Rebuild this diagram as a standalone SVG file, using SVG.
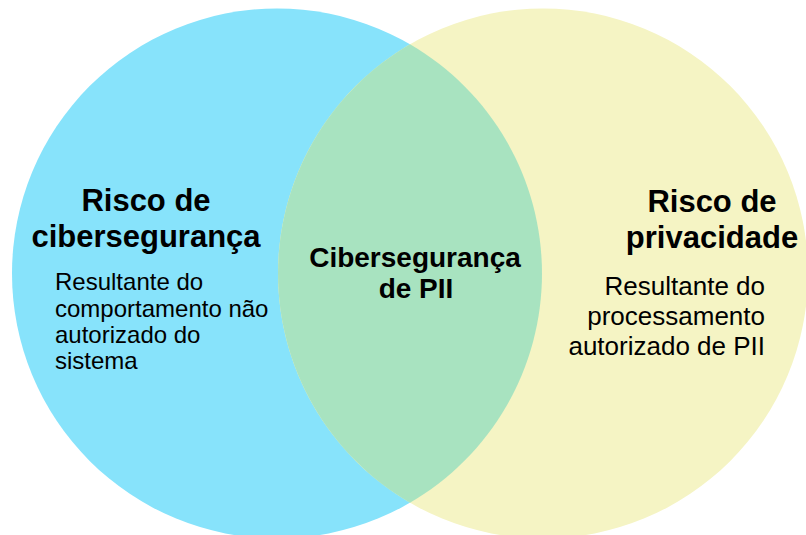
<svg xmlns="http://www.w3.org/2000/svg" width="806" height="535" viewBox="0 0 806 535">
<style>
.t{font-family:"Liberation Sans",Arial,sans-serif;fill:#000}
.h{font-weight:bold;font-size:31px;text-anchor:middle}
.c{font-weight:bold;font-size:28px;text-anchor:middle}
.bl{font-size:24px}
.br{font-size:26px;text-anchor:end}
</style>
<rect width="806" height="535" fill="#ffffff"/>
<g id="connectors"></g>
<g id="cybersecurity-risk">
<circle cx="277" cy="273.5" r="265" fill="#87E3FB"/>
</g>
<g id="privacy-risk">
<circle cx="543" cy="273.5" r="265" fill="#F5F4C4"/>
</g>
<g id="pii-cybersecurity">
<path d="M410,44.3 A265,265 0 0,1 410,502.7 A265,265 0 0,1 410,44.3 Z" fill="#A8E3C0"/>
</g>
<g id="cybersecurity-risk-text">
<text class="t h" x="146" y="211">Risco de</text>
<text class="t h" x="146" y="247">cibersegurança</text>
<text class="t bl" x="55" y="290">Resultante do</text>
<text class="t bl" x="55" y="316.5">comportamento não</text>
<text class="t bl" x="55" y="343">autorizado do</text>
<text class="t bl" x="55" y="369">sistema</text>
</g>
<g id="privacy-risk-text">
<text class="t h" x="712" y="212">Risco de</text>
<text class="t h" x="712" y="248">privacidade</text>
<text class="t br" x="765" y="295">Resultante do</text>
<text class="t br" x="765" y="324.5">processamento</text>
<text class="t br" x="765" y="355">autorizado de PII</text>
</g>
<g id="pii-cybersecurity-text">
<text class="t c" x="415" y="267">Cibersegurança</text>
<text class="t c" x="416" y="298">de PII</text>
</g>
</svg>
